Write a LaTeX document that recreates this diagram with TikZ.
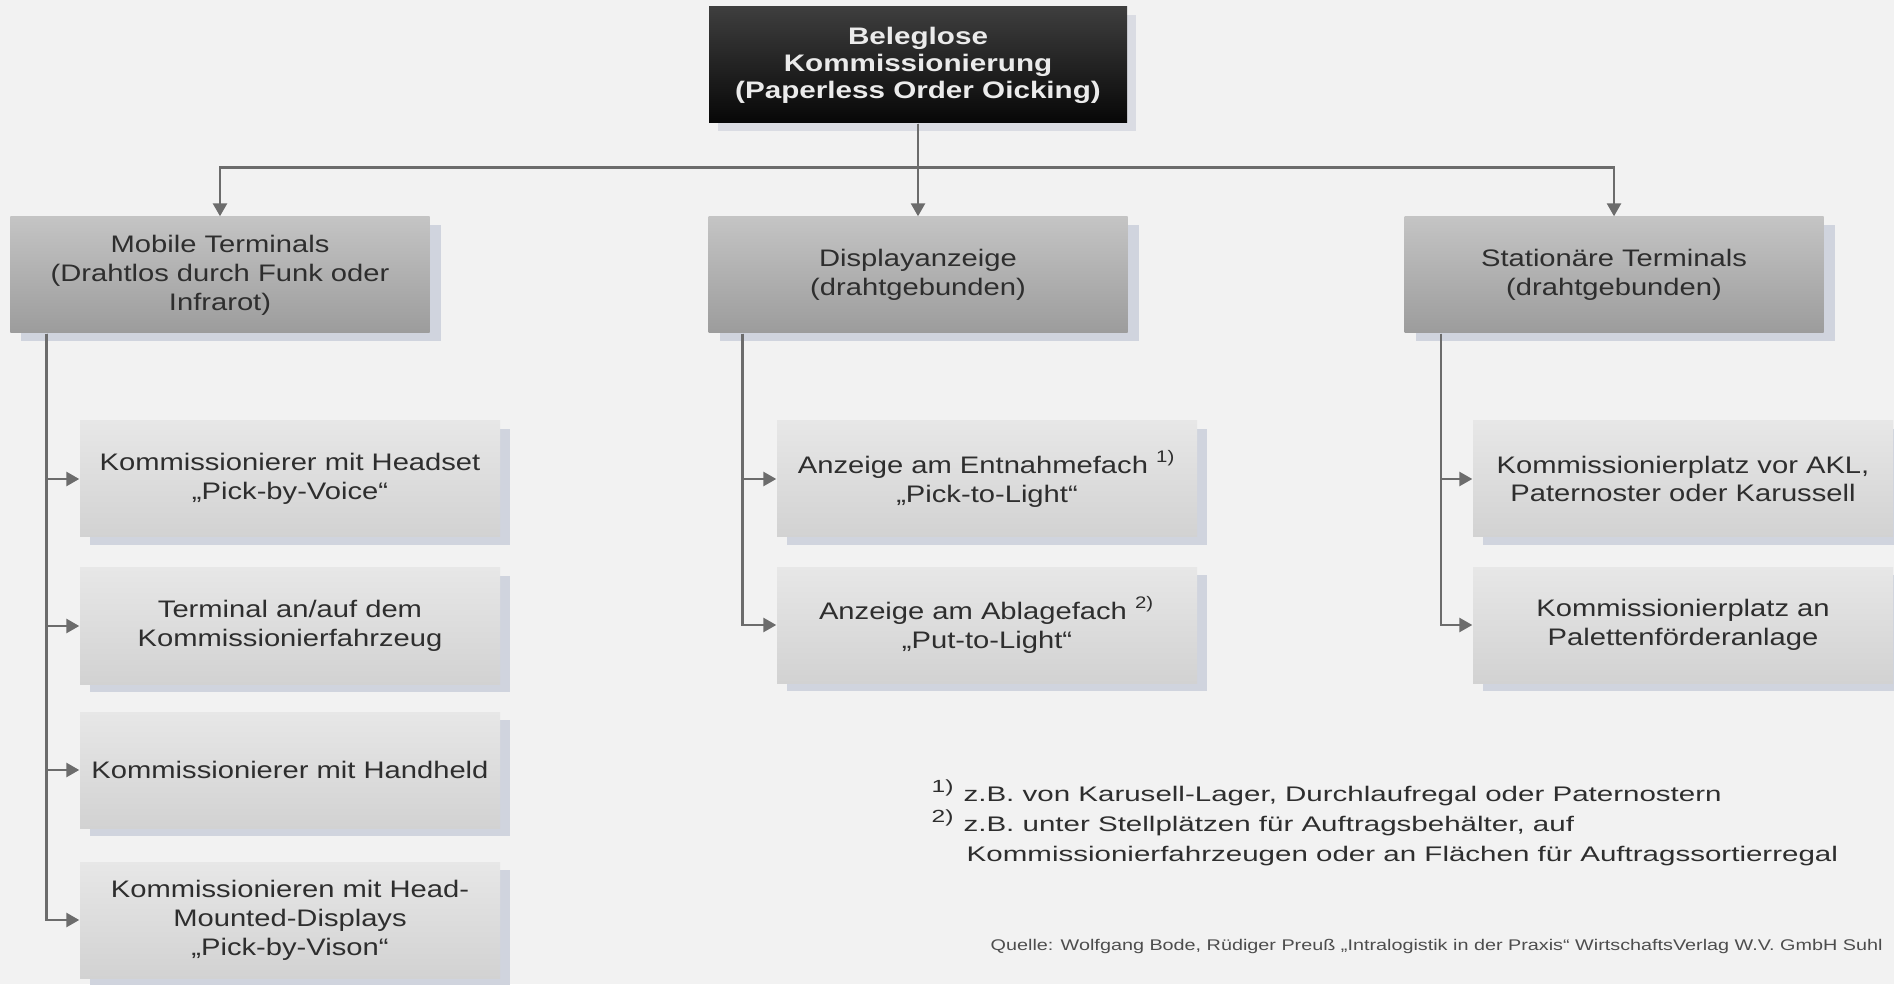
\documentclass[tikz,border=0pt]{standalone}
\usepackage{fontspec}
\setmainfont{Liberation Sans}
\newfontfamily\cajafont[FakeStretch=1.22]{Liberation Sans}
\newfontfamily\titulofont[FakeStretch=1.24]{Liberation Sans}
\newfontfamily\notafont[FakeStretch=1.4]{Liberation Sans}
\newfontfamily\fuentefont[FakeStretch=1.28]{Liberation Sans}
\usetikzlibrary{arrows.meta,shadows}
\definecolor{fondo}{HTML}{F2F2F2}
\definecolor{raizarriba}{HTML}{3E3E3E}
\definecolor{raizabajo}{HTML}{070707}
\definecolor{grupoarriba}{HTML}{C4C4C4}
\definecolor{grupoabajo}{HTML}{9C9C9C}
\definecolor{hojaarriba}{HTML}{E7E7E7}
\definecolor{hojaabajo}{HTML}{D2D2D2}
\definecolor{sombra}{HTML}{D0D4DE}
\definecolor{linea}{HTML}{6C6C6C}
\definecolor{texto}{HTML}{2E2E2E}

\begin{document}
\begin{tikzpicture}[
    raiz/.style={minimum width=4.18cm, minimum height=1.16cm, inner sep=0pt, align=center,
        top color=raizarriba, bottom color=raizabajo, text=white!92!black,
        font=\titulofont\bfseries\fontsize{6.8}{7.7}\selectfont,
        drop shadow={shadow xshift=0.09cm, shadow yshift=-0.08cm, fill=sombra, opacity=0.7}},
    grupo/.style={minimum width=4.19cm, minimum height=1.16cm, inner sep=0pt, align=center,
        top color=grupoarriba, bottom color=grupoabajo, text=texto,
        font=\cajafont\fontsize{6.8}{8.2}\selectfont,
        drop shadow={shadow xshift=0.11cm, shadow yshift=-0.08cm, fill=sombra, opacity=1}},
    hoja/.style={minimum width=4.2cm, minimum height=1.16cm, inner sep=0pt, align=center,
        top color=hojaarriba, bottom color=hojaabajo, text=texto,
        font=\cajafont\fontsize{6.8}{8.2}\selectfont,
        drop shadow={shadow xshift=0.1cm, shadow yshift=-0.08cm, fill=sombra, opacity=1}},
    pfeil/.style={draw=linea, line width=0.75pt, -{Triangle[length=1.3mm, width=1.4mm]}}
]
    % Fondo y marco
    \fill[fondo] (0,0) rectangle (18.94,9.84);
    \useasboundingbox (0,0) rectangle (18.94,9.84);

    % Nodo raiz
    \node[raiz] (raiz) at (9.18,9.19) {Beleglose\\Kommissionierung\\(Paperless Order Oicking)};

    % Segundo nivel
    \node[grupo] (movil) at (2.20,7.09) {Mobile Terminals\\(Drahtlos durch Funk oder\\Infrarot)};
    \node[grupo] (display) at (9.18,7.09) {Displayanzeige\\(drahtgebunden)};
    \node[grupo] (estacion) at (16.14,7.09) {Stationäre Terminals\\(drahtgebunden)};

    % Tercer nivel: terminales moviles
    \node[hoja] (voice) at (2.90,5.05) {Kommissionierer mit Headset\\„Pick-by-Voice“};
    \node[hoja] (fahrzeug) at (2.90,3.58) {Terminal an/auf dem\\Kommissionierfahrzeug};
    \node[hoja] (handheld) at (2.90,2.14) {Kommissionierer mit Handheld};
    \node[hoja] (vision) at (2.90,0.64) {Kommissionieren mit Head-\\Mounted-Displays\\„Pick-by-Vison“};

    % Tercer nivel: displays
    \node[hoja] (pick) at (9.87,5.05) {Anzeige am Entnahmefach \textsuperscript{1)}\\„Pick-to-Light“};
    \node[hoja] (put) at (9.87,3.59) {Anzeige am Ablagefach \textsuperscript{2)}\\„Put-to-Light“};

    % Tercer nivel: terminales estacionarios
    \node[hoja] (akl) at (16.83,5.05) {Kommissionierplatz vor AKL,\\Paternoster oder Karussell};
    \node[hoja] (palette) at (16.83,3.59) {Kommissionierplatz an\\Palettenförderanlage};

    % Conexiones desde la raiz
    \draw[pfeil] (raiz.south) -- (display.north);
    \draw[pfeil] (raiz.south) -- ++(0,-0.44) -| (movil.north);
    \draw[pfeil] (raiz.south) -- ++(0,-0.44) -| (estacion.north);

    % Conexiones al tercer nivel
    \draw[pfeil] ([xshift=0.37cm]movil.south west) |- (voice.west);
    \draw[pfeil] ([xshift=0.37cm]movil.south west) |- (fahrzeug.west);
    \draw[pfeil] ([xshift=0.37cm]movil.south west) |- (handheld.west);
    \draw[pfeil] ([xshift=0.37cm]movil.south west) |- (vision.west);
    \draw[pfeil] ([xshift=0.35cm]display.south west) |- (pick.west);
    \draw[pfeil] ([xshift=0.35cm]display.south west) |- (put.west);
    \draw[pfeil] ([xshift=0.37cm]estacion.south west) |- (akl.west);
    \draw[pfeil] ([xshift=0.37cm]estacion.south west) |- (palette.west);

    % Notas al pie
    \node[anchor=base west, inner sep=0pt, align=left, text=texto,
        font=\notafont\fontsize{6.0}{8.5}\selectfont] (notas) at (9.31,1.23)
        {\textsuperscript{1)} z.B. von Karusell-Lager, Durchlaufregal oder Paternostern\\
         \textsuperscript{2)} z.B. unter Stellplätzen für Auftragsbehälter, auf\\
         \hspace*{0.35cm}Kommissionierfahrzeugen oder an Flächen für Auftragssortierregal};

    % Fuente
    \node[anchor=base west, inner sep=0pt, text=texto!85,
        font=\fuentefont\fontsize{4.4}{5}\selectfont] (fuente) at (9.90,0.34)
        {Quelle: Wolfgang Bode, Rüdiger Preuß „Intralogistik in der Praxis“ WirtschaftsVerlag W.V. GmbH Suhl};
\end{tikzpicture}
\end{document}
